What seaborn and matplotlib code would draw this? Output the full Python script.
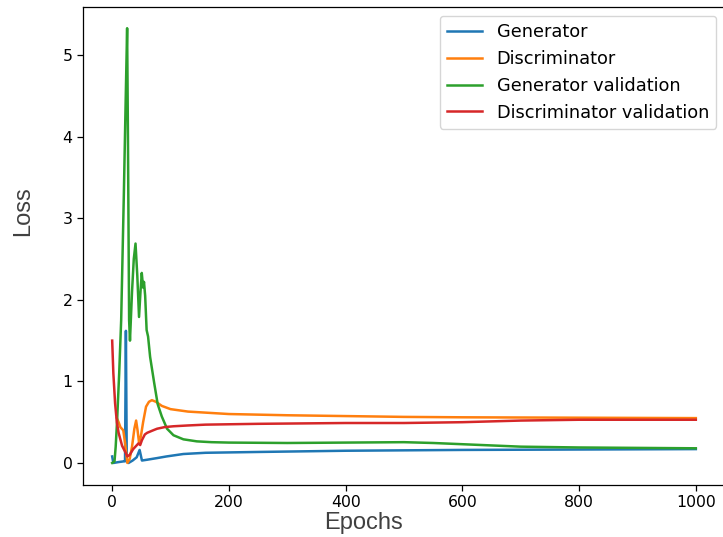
import matplotlib
matplotlib.use("Agg")
import matplotlib.pyplot as plt
import seaborn as sns

# ---- data ----
gen_epochs = [0, 2, 10, 20, 22, 23.5, 25, 28, 35, 42, 47, 51, 60, 77, 93, 122, 160, 250, 400, 600, 800, 1000]
gen_loss = [0.08, 0.0, 0.01, 0.02, 0.02, 1.62, 0.02, 0.0, 0.03, 0.07, 0.16, 0.03, 0.04, 0.06, 0.08, 0.11, 0.125, 0.135, 0.15, 0.16, 0.165, 0.17]

disc_epochs = [8, 11, 14, 19, 22, 26, 30, 34, 38, 41, 43.5, 46, 49, 53, 58, 63, 68, 75, 85, 100, 130, 200, 300, 400, 500, 600, 800, 1000]
disc_loss = [0.55, 0.5, 0.44, 0.4, 0.25, 0.0, 0.05, 0.2, 0.42, 0.52, 0.4, 0.25, 0.32, 0.5, 0.69, 0.75, 0.77, 0.75, 0.7, 0.66, 0.63, 0.6, 0.585, 0.575, 0.565, 0.56, 0.555, 0.55]

genval_epochs = [0, 4, 6, 8.5, 12, 15.4, 20, 23, 25.6, 27, 29, 30.5, 34, 37, 40, 43, 46, 48.5, 50.7, 53, 54.5, 56.5, 59, 61.5, 65, 72, 78, 85, 94, 105, 122, 145, 170, 200, 300, 400, 500, 550, 600, 700, 800, 900, 1000]
genval_loss = [0.0, 0.02, 0.2, 0.53, 1.1, 1.75, 3.3, 4.4, 5.33, 4.0, 1.75, 1.5, 2.1, 2.5, 2.69, 2.3, 1.79, 2.1, 2.33, 2.15, 2.22, 2.05, 1.63, 1.55, 1.3, 0.98, 0.72, 0.57, 0.42, 0.34, 0.29, 0.265, 0.255, 0.25, 0.245, 0.25, 0.255, 0.245, 0.23, 0.2, 0.19, 0.185, 0.18]

discval_epochs = [0, 2, 5, 8, 11, 17, 22, 26, 30, 36, 45, 48, 51, 56, 60, 70, 77, 90, 105, 130, 160, 250, 400, 500, 600, 700, 800, 1000]
discval_loss = [1.5, 1.1, 0.73, 0.5, 0.37, 0.21, 0.14, 0.08, 0.1, 0.17, 0.24, 0.22, 0.28, 0.35, 0.37, 0.4, 0.42, 0.44, 0.45, 0.46, 0.47, 0.48, 0.49, 0.49, 0.5, 0.52, 0.53, 0.53]

series = [
    ("Generator", gen_epochs, gen_loss, "#1f77b4"),
    ("Discriminator", disc_epochs, disc_loss, "#ff7f0e"),
    ("Generator validation", genval_epochs, genval_loss, "#2ca02c"),
    ("Discriminator validation", discval_epochs, discval_loss, "#d62728"),
]

fig = plt.figure(figsize=(7.23, 5.37), dpi=100)
ax = fig.add_axes([83 / 723, 52 / 537, 642 / 723, 478 / 537])

for name, xs, ys, col in series:
    sns.lineplot(x=xs, y=ys, ax=ax, label=name, color=col, linewidth=1.8)

ax.set_xlim(-50, 1050)
ax.set_ylim(-0.27, 5.59)
ax.set_xticks([0, 200, 400, 600, 800, 1000])
ax.set_yticks([0, 1, 2, 3, 4, 5])
ax.tick_params(labelsize=11.3, length=4, width=0.9)
for s in ax.spines.values():
    s.set_linewidth(0.9)

ax.set_xlabel("Epochs", fontsize=17, family="Liberation Sans", color="#404040")
ax.set_ylabel("Loss", fontsize=17, family="Liberation Sans", color="#404040")
ax.xaxis.set_label_coords((364 - 83) / 642, (485 - 512) / 478)
ax.yaxis.set_label_coords((34 - 83) / 642, (485 - 211) / 478)

ax.legend(loc="upper right", fontsize=12.8, borderaxespad=0.5)

fig.savefig("out.png", dpi=100)
